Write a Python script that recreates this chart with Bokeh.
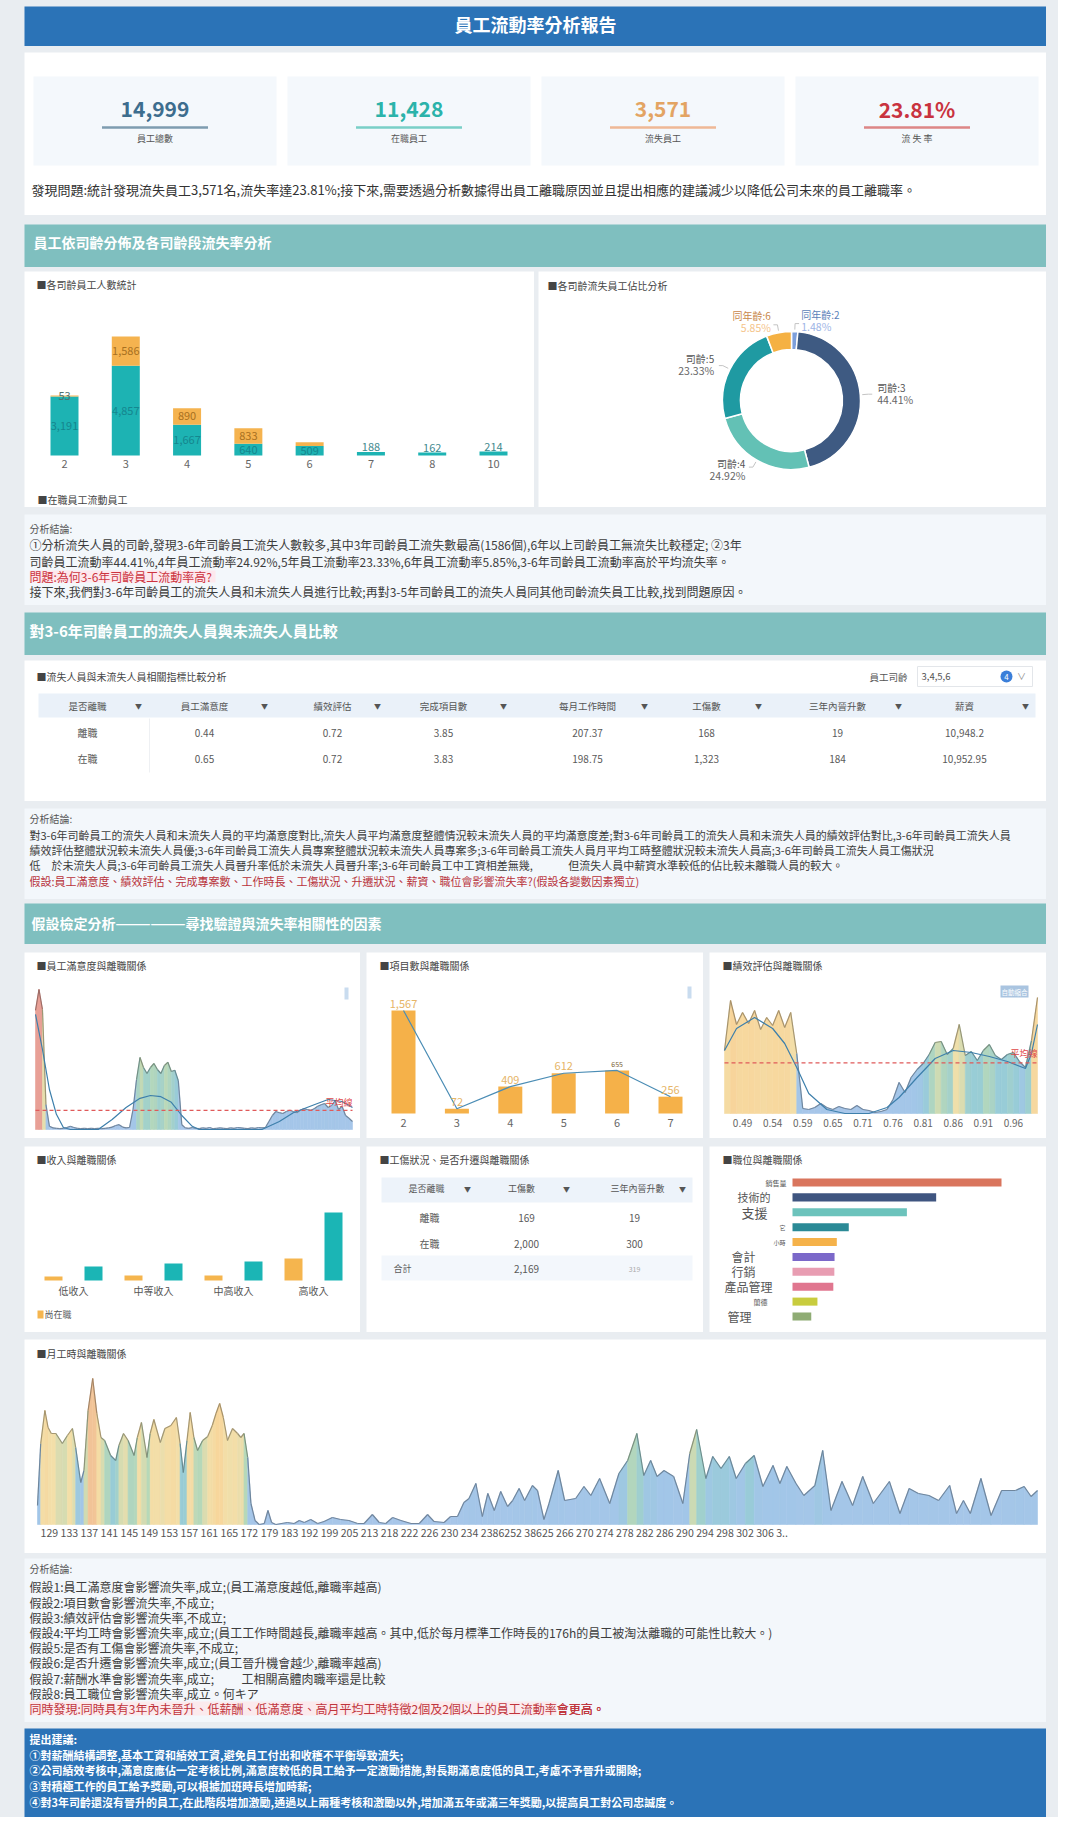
import numpy as np
from bokeh.plotting import figure
from bokeh.layouts import column, row
from bokeh.models import Range1d, Spacer
from bokeh.core.properties import value
from bokeh.embed import file_html
from bokeh.resources import INLINE

FONT = "Noto Sans CJK TC"
BG = "#e9edf1"
WHITE = "#ffffff"
NOTE_BG = "#f3f7fb"
BLUE = "#2b73b7"
TEAL_HDR = "#7fbfbf"
TEAL = "#1db3b3"
ORANGE = "#f5b34f"
RED = "#cc3440"

# ---------------- data ----------------
kpi_total = 14999
kpi_active = 11428
kpi_left = 3571
kpi_labels = ["員工總數", "在職員工", "流失員工", "流 失 率"]

tenure_years = [2, 3, 4, 5, 6, 7, 8, 10]
tenure_stay = [3191, 4857, 1667, 640, 509, 188, 162, 214]
tenure_left = [53, 1586, 890, 833, 209, 0, 0, 0]

donut_names = ["同年齡:2", "司齡:3", "司齡:4", "司齡:5", "同年齡:6"]
donut_counts = [53, 1586, 890, 833, 209]

table_cols = ["是否離職", "員工滿意度", "績效評估", "完成項目數", "每月工作時間", "工傷數", "三年內晉升數", "薪資"]
table_status = ["離職", "在職"]
table_satisfaction = [0.44, 0.65]
table_evaluation = [0.72, 0.72]
table_projects = [3.85, 3.83]
table_hours = [207.37, 198.75]
table_accident = [168, 1323]
table_promotion = [19, 184]
table_salary = [10948.2, 10952.95]
filter_ages = [3, 4, 5, 6]

sat_levels = [f"{v / 100:.2f}" for v in range(9, 101)]
sat_left = [298, 350, 300, 62, 8,
            4, 3, 2, 3, 5, 8, 5, 3, 2, 3, 2, 3, 2, 3, 2, 3, 4, 6, 10, 12, 6, 4, 5,
            50, 125, 180, 155, 140, 155, 165, 150, 140, 160, 168, 145, 148, 122, 12,
            4, 3, 5, 3, 2, 4, 3, 5, 2, 3, 4, 3, 2, 4, 3, 5, 4, 3, 2, 4, 3, 5, 4,
            5, 20, 35, 45, 42, 40, 45, 48, 45, 42, 48, 52, 50, 48, 52, 58, 62, 65, 55, 60, 72, 50, 58, 35, 28, 20]
sat_trend_idx = [0, 2, 4, 6, 8, 10, 18, 22, 26, 30, 33, 36, 39, 42, 45, 47, 65, 70, 74, 80, 84, 88, 91]
sat_trend = [288, 200, 100, 38, 5, 0, 0, 25, 55, 78, 85, 82, 68, 35, 8, 0, 0, 20, 42, 62, 75, 70, 55]

proj_counts = ["2", "3", "4", "5", "6", "7"]
proj_left = [1567, 72, 409, 612, 655, 256]

eval_levels = ["0.46", "0.47", "0.48", "0.49", "0.50", "0.51", "0.52", "0.53", "0.54", "0.55",
               "0.56", "0.57", "0.58", "0.59", "0.60", "0.61", "0.62", "0.64", "0.65", "0.66",
               "0.67", "0.68", "0.70", "0.71", "0.72", "0.73", "0.74", "0.75", "0.76", "0.77",
               "0.78", "0.79", "0.80", "0.81", "0.82", "0.83", "0.84", "0.85", "0.86", "0.87",
               "0.88", "0.89", "0.90", "0.91", "0.92", "0.93", "0.94", "0.95", "0.96", "0.97",
               "0.98", "0.99", "1.00"]
eval_left = [63, 113, 89, 101, 90, 103, 84, 96, 88, 103, 86, 101, 60, 5,
             4, 6, 10, 6, 4, 7, 5, 4, 8, 4, 3, 1, 2, 4,
             14, 31, 21, 36, 44, 50, 59, 71, 72, 59, 65, 89, 58, 62, 53, 63, 69, 58, 54, 59, 61, 52, 46, 73, 116]
eval_trend_idx = [0, 2, 5, 8, 10, 12, 14, 17, 20, 24, 27, 29, 32, 35, 38, 41, 44, 47, 50, 51, 52]
eval_trend = [63, 85, 96, 85, 70, 46, 20, 4, 0, 0, 6, 16, 36, 55, 63, 61, 57, 52, 45, 60, 89]
eval_ticks = ["0.49", "0.54", "0.59", "0.65", "0.71", "0.76", "0.81", "0.86", "0.91", "0.96"]

income_groups = ["低收入", "中等收入", "中高收入", "高收入"]
income_active = [4, 5, 5, 22]
income_leave = [14, 17, 19, 68]

t2_cols = ["是否離職", "工傷數", "三年內晉升數"]
t2_status = ["離職", "在職"]
t2_accident = [169, 2000]
t2_promotion = [19, 300]

dept_names = ["銷售量", "技術的", "支援", "它", "小時", "會計", "行銷", "產品管理", "蘭德", "管理"]
dept_left = [1014, 697, 555, 273, 215, 204, 203, 198, 121, 91]

monthly_pos = [0.0, 0.7, 1.6, 2.3, 3.0, 4.0, 5.4, 6.5, 7.6, 8.3,
               9.4, 10.1, 11.0, 12.0, 12.9, 13.8, 14.6, 15.9, 17.0, 17.7,
               18.7, 19.7, 21.0, 21.7, 22.6, 23.8, 24.5, 25.3, 26.7, 27.7,
               29.0, 30.2, 31.0, 31.7, 32.5, 33.2, 34.0, 34.8, 35.9, 37.0,
               38.0, 38.8, 39.6, 40.4, 41.3, 42.4, 43.5, 44.2, 44.9, 45.7,
               46.4, 47.3, 48.2, 49.3, 50.1, 50.9, 51.8, 54.3, 55.8, 56.9,
               58.0, 59.4, 60.9, 62.3, 64.1, 65.9, 67.7, 69.6, 71.0, 72.8,
               74.3, 75.7, 77.2, 79.0, 81.2, 83.0, 84.8, 86.2, 88.4, 89.8,
               91.3, 92.7, 93.8, 95.3, 96.7, 97.9, 99.3, 100.7, 102.2, 103.3,
               104.7, 105.9, 107.6, 108.7, 110.1, 111.2, 113.2, 114.6, 117.0, 118.8,
               120.3, 122.2, 124.4, 126.4, 128.3, 130.3, 131.8, 133.3, 134.7, 136.2,
               138.3, 140.3, 141.8, 143.3, 145.3, 146.8, 148.6, 150.4, 151.9, 153.9,
               155.8, 157.7, 159.9, 161.4, 162.9, 164.9, 166.6, 169.0, 170.7, 172.5,
               174.9, 177.2, 179.4, 181.7, 185.2, 187.5, 189.5, 191.5, 193.8, 195.9,
               198.3, 199.8, 201.3, 202.8, 205.1, 207.3, 209.6, 212.6, 214.5, 216.0,
               217.4]
monthly_left = [19, 81, 114, 97, 91, 91, 81, 89, 96, 77,
                42, 54, 114, 146, 111, 87, 84, 69, 64, 79,
                91, 84, 69, 87, 102, 67, 91, 105, 82, 96,
                99, 107, 81, 52, 84, 112, 87, 74, 84, 88,
                99, 111, 121, 107, 84, 96, 91, 87, 91, 67,
                21, 4, 0, 1, 14, 2, 0, 2, 1, 4,
                2, 5, 1, 3, 7, 5, 4, 1, 1, 10,
                2, 1, 7, 4, 1, 1, 10, 3, 2, 8,
                8, 22, 26, 41, 8, 31, 14, 33, 18, 24,
                36, 24, 39, 34, 5, 21, 54, 24, 26, 38,
                29, 46, 21, 51, 64, 91, 49, 64, 48, 54,
                48, 21, 71, 95, 46, 68, 56, 68, 46, 61,
                69, 38, 59, 41, 58, 41, 29, 39, 74, 14,
                43, 19, 48, 21, 43, 11, 36, 31, 29, 24,
                39, 11, 24, 11, 46, 9, 34, 34, 38, 28,
                34]
monthly_tick_text = ("129 133 137 141 145 149 153 157 161 165 172 179 183 192 199 205 213 218 222 226 "
                     "230 234 2386252 38625 266 270 274 278 282 286 290 294 298 302 306 3..")

assert len(sat_left) == len(sat_levels)
assert len(eval_left) == len(eval_levels)
assert len(monthly_pos) == len(monthly_left)

# ---------------- text content ----------------
problem_text = ("發現問題:統計發現流失員工3,571名,流失率達23.81%;接下來,需要透過分析數據得出員工離職原因"
                "並且提出相應的建議減少以降低公司未來的員工離職率。")
note1 = [
    ("分析結論:", 10, "#555555"),
    (" ①分析流失人員的司齡,發現3-6年司齡員工流失人數較多,其中3年司齡員工流失數最高(1586個),6年以上司齡員工無流失比較穩定; ②3年", 12, "#3c3c3c"),
    ("司齡員工流動率44.41%,4年員工流動率24.92%,5年員工流動率23.33%,6年員工流動率5.85%,3-6年司齡員工流動率高於平均流失率。", 12, "#3c3c3c"),
    ("問題:為何3-6年司齡員工流動率高?", 12, RED),
    ("接下來,我們對3-6年司齡員工的流失人員和未流失人員進行比較;再對3-5年司齡員工的流失人員同其他司齡流失員工比較,找到問題原因。", 12, "#3c3c3c"),
]
note2 = [
    ("分析結論:", 10, "#555555"),
    ("對3-6年司齡員工的流失人員和未流失人員的平均滿意度對比,流失人員平均滿意度整體情況較未流失人員的平均滿意度差;對3-6年司齡員工的流失人員和未流失人員的績效評估對比,3-6年司齡員工流失人員", 11, "#3c3c3c"),
    ("績效評估整體狀況較未流失人員優;3-6年司齡員工流失人員專案整體狀況較未流失人員專案多;3-6年司齡員工流失人員月平均工時整體狀況較未流失人員高;3-6年司齡員工流失人員工傷狀況", 11, "#3c3c3c"),
    ("低　於未流失人員;3-6年司齡員工流失人員晉升率低於未流失人員晉升率;3-6年司齡員工中工資相差無幾,　　　 但流失人員中薪資水準較低的佔比較未離職人員的較大。", 11, "#3c3c3c"),
    ("假設:員工滿意度、績效評估、完成專案數、工作時長、工傷狀況、升遷狀況、薪資、職位會影響流失率?(假設各變數因素獨立)", 11, "#b8323a"),
]
note3 = [
    ("分析結論:", 10, "#555555"),
    ("假設1:員工滿意度會影響流失率,成立;(員工滿意度越低,離職率越高)", 12, "#3c3c3c"),
    ("假設2:項目數會影響流失率,不成立;", 12, "#3c3c3c"),
    ("假設3:績效評估會影響流失率,不成立;", 12, "#3c3c3c"),
    ("假設4:平均工時會影響流失率,成立;(員工工作時間越長,離職率越高。其中,低於每月標準工作時長的176h的員工被淘汰離職的可能性比較大。)", 12, "#3c3c3c"),
    ("假設5:是否有工傷會影響流失率,不成立;", 12, "#3c3c3c"),
    ("假設6:是否升遷會影響流失率,成立;(員工晉升機會越少,離職率越高)", 12, "#3c3c3c"),
    ("假設7:薪酬水準會影響流失率,成立;", 12, "#3c3c3c"),
    ("假設8:員工職位會影響流失率,成立。何キア", 12, "#3c3c3c"),
    ("同時發現:同時具有3年內未晉升、低薪酬、低滿意度、高月平均工時特徵2個及2個以上的員工流動率會更高。", 12, "#c0343c"),
]
suggest = [
    "提出建議:",
    "①對薪酬結構調整,基本工資和績效工資,避免員工付出和收穫不平衡導致流失;",
    "②公司績效考核中,滿意度應佔一定考核比例,滿意度較低的員工給予一定激勵措施,對長期滿意度低的員工,考慮不予晉升或開除;",
    "③對積極工作的員工給予獎勵,可以根據加班時長增加時薪;",
    "④對3年司齡還沒有晉升的員工,在此階段增加激勵,通過以上兩種考核和激勵以外,增加滿五年或滿三年獎勵,以提高員工對公司忠誠度。",
]

# ---------------- helpers ----------------
W = 1022


def fit(lo, hi, a, b, total):
    k = (hi - lo) / (b - a)
    start = lo - a * k
    return Range1d(start, start + total * k)


def fig(w, h, bg, xr=None, yr=None):
    p = figure(width=w, height=h,
               x_range=xr if xr is not None else Range1d(0, w),
               y_range=yr if yr is not None else Range1d(h, 0),
               x_axis_type=None, y_axis_type=None, tools="", toolbar_location=None,
               output_backend="svg", min_border=0)
    p.extra_x_ranges = {"px": Range1d(0, w)}
    p.extra_y_ranges = {"px": Range1d(h, 0)}
    p.outline_line_color = None
    p.background_fill_color = bg
    p.border_fill_color = bg
    p.grid.visible = False
    return p


def T(p, x, y, s, size=11, color="#3c3c3c", align="left", bold=False, baseline="middle"):
    p.text(x=[x], y=[y], text=[s], text_font=value(FONT), text_font_size=f"{size}px",
           text_color=color, text_align=align, text_baseline=baseline,
           text_font_style="bold" if bold else "normal",
           x_range_name="px", y_range_name="px")


def R(p, x0, y0, x1, y1, fill, line=None):
    p.quad(left=[x0], right=[x1], top=[y0], bottom=[y1], fill_color=fill, line_color=line,
           x_range_name="px", y_range_name="px")


STOPS = [(0.0, (168, 198, 234)), (0.36, (162, 198, 232)), (0.46, (152, 205, 214)),
         (0.54, (182, 216, 186)), (0.62, (243, 224, 170)), (0.8, (248, 214, 156)),
         (0.92, (240, 190, 150)), (1.0, (232, 160, 150))]


def cmap(t):
    t = max(0.0, min(1.0, t))
    for (t0, c0), (t1, c1) in zip(STOPS[:-1], STOPS[1:]):
        if t <= t1:
            f = (t - t0) / (t1 - t0)
            return tuple(int(c0[i] + (c1[i] - c0[i]) * f) for i in range(3))
    return STOPS[-1][1]


def hexc(c, k=1.0):
    return "#%02x%02x%02x" % tuple(int(v * k) for v in c)


def area(p, xs, ys, vref):
    pxs, pys, fills, lxs, lys, lcs = [], [], [], [], [], []
    for i in range(len(xs) - 1):
        c = cmap(((ys[i] + ys[i + 1]) / 2) / vref)
        pxs.append([xs[i], xs[i + 1], xs[i + 1], xs[i]])
        pys.append([ys[i], ys[i + 1], 0, 0])
        fills.append(hexc(c))
        lxs.append([xs[i], xs[i + 1]])
        lys.append([ys[i], ys[i + 1]])
        lcs.append(hexc(c, 0.68))
    p.patches(pxs, pys, fill_color=fills, line_color=fills, line_width=0.6)
    p.multi_line(lxs, lys, line_color=lcs, line_width=1.2)


def pill(p, x, y):
    R(p, x - 2, y - 6, x + 2, y + 6, "#c9dcef")


def note_panel(lines, h, ys):
    p = fig(W, h, NOTE_BG)
    for (s, size, color), y in zip(lines, ys):
        T(p, 5, y, s, size, color)
    return p


def section(text, h, tx, ty, size):
    p = fig(W, h, TEAL_HDR)
    T(p, tx, ty, text, size, "#ffffff", bold=True)
    return p


# ---------------- header ----------------
hdr = fig(W, 40, BLUE)
T(hdr, W / 2, 17, "員工流動率分析報告", 18, "#ffffff", "center", True)

# ---------------- KPI ----------------
kpi = fig(W, 163, WHITE)
kpi_vals = [f"{kpi_total:,}", f"{kpi_active:,}", f"{kpi_left:,}", f"{kpi_left / kpi_total * 100:.2f}%"]
kpi_colors = ["#3d6d8e", "#2bb3aa", "#e3a463", "#c9333f"]
kpi_lines = ["#7e9cb0", "#79cfc7", "#efb896", "#dd8686"]
for i in range(4):
    x0 = 9 + 254 * i
    R(kpi, x0, 24, x0 + 243, 113, "#f4f8fc")
    cxk = x0 + 121.5
    T(kpi, cxk, 56, kpi_vals[i], 21, kpi_colors[i], "center", True)
    kpi.line(x=[cxk - 53, cxk + 53], y=[75, 75], line_color=kpi_lines[i], line_width=2.5,
             x_range_name="px", y_range_name="px")
    T(kpi, cxk, 86, kpi_labels[i], 9, "#555555", "center")
T(kpi, 7, 137, problem_text, 13, "#333333")

sec1 = section("員工依司齡分佈及各司齡段流失率分析", 43, 9, 17, 14)

# ---------------- tenure bar chart ----------------
BW, BH = 510, 236
tot = [a + b for a, b in zip(tenure_stay, tenure_left)]
n = len(tenure_years)
xi = list(range(n))
base_rel, top_rel = 184, 65
bar = fig(BW, BH, WHITE, fit(0, n - 1, 40, 469, BW), fit(0, max(tot), BH - base_rel, BH - top_rel, BH))
pitch = (469 - 40) / (n - 1)
bw = 28 / pitch
bar.vbar(x=xi, bottom=0, top=tenure_stay, width=bw, fill_color=TEAL, line_color=None)
bar.vbar(x=xi, bottom=tenure_stay, top=tot, width=bw, fill_color=ORANGE, line_color=None)
ppu = (base_rel - top_rel) / max(tot)
in_x, in_y, in_t, ab_x, ab_y, ab_t = [], [], [], [], [], []
for i, s in enumerate(tenure_stay):
    if s * ppu >= 6:
        in_x.append(i); in_y.append(s / 2); in_t.append(f"{s:,}")
    else:
        ab_x.append(i); ab_y.append(tot[i]); ab_t.append(f"{s:,}")
bar.text(x=in_x, y=in_y, text=in_t, text_font=value(FONT), text_font_size="11px", text_color="#15868e",
         text_align="center", text_baseline="middle")
bar.text(x=ab_x, y=ab_y, text=ab_t, y_offset=-1, text_font=value(FONT), text_font_size="11px",
         text_color="#3f8a8e", text_align="center", text_baseline="bottom")
ox, oy, ot, oc_ = [], [], [], []
for i in range(n):
    if tenure_left[i] > 0:
        oc = tenure_stay[i] + tenure_left[i] / 2
        if (oc - tenure_stay[i] / 2) * ppu > 10:
            ox.append(i); oy.append(oc); ot.append(f"{tenure_left[i]:,}")
            oc_.append("#a8701f" if tenure_left[i] * ppu >= 6 else "#4f6f6f")
bar.text(x=ox, y=oy, text=ot, text_font=value(FONT), text_font_size="11px", text_color=oc_,
         text_align="center", text_baseline="middle")
bar.text(x=xi, y=[192] * n, text=[str(v) for v in tenure_years], y_range_name="px",
         text_font=value(FONT), text_font_size="11px", text_color="#666666",
         text_align="center", text_baseline="middle")
T(bar, 12, 13, "■各司齡員工人數統計", 10, "#444444")
T(bar, 13, 228, "■在職員工流動員工", 10, "#444444")

# ---------------- donut ----------------
DW, DH = 508, 236
don = fig(DW, DH, WHITE, Range1d(0, DW), Range1d(0, DH))
cx, cy = 253, DH - 129
fr = np.array(donut_counts, dtype=float) / sum(donut_counts)
cum = np.concatenate([[0.0], np.cumsum(fr)])
starts = np.pi / 2 - cum[1:] * 2 * np.pi
ends = np.pi / 2 - cum[:-1] * 2 * np.pi
donut_colors = ["#7d9fdb", "#3e5a82", "#63c1b5", "#1f9aa2", "#f5b143"]
name_colors = ["#5b7fb8", "#555555", "#555555", "#555555", "#c8874a"]
pct_colors = ["#9db4e6", "#666666", "#666666", "#666666", "#f5c48a"]
don.annular_wedge(x=cx, y=cy, inner_radius=51, outer_radius=69, start_angle=starts, end_angle=ends,
                  fill_color=donut_colors, line_color="white", line_width=1.5)
lxs, lys = [], []
for i in range(len(donut_counts)):
    mid = (cum[i] + cum[i + 1]) / 2 * 2 * np.pi
    sx, sy = np.sin(mid), np.cos(mid)
    side = 1 if sx >= 0 else -1
    p1 = (cx + 71 * sx, cy + 71 * sy)
    p2 = (cx + 77 * sx, cy + 77 * sy)
    lxs.append([p1[0], p2[0], p2[0] + 4 * side])
    lys.append([p1[1], p2[1], p2[1]])
    ax, ay = cx + 80 * sx + 6 * side, cy + 80 * sy
    al = "left" if side > 0 else "right"
    don.text(x=[ax], y=[ay + 6], text=[donut_names[i]], text_font=value(FONT), text_font_size="10px",
             text_color=name_colors[i], text_align=al, text_baseline="middle")
    don.text(x=[ax], y=[ay - 6], text=[f"{fr[i] * 100:.2f}%"], text_font=value(FONT), text_font_size="10.5px",
             text_color=pct_colors[i], text_align=al, text_baseline="middle")
don.multi_line(lxs, lys, line_color="#c4c4c4", line_width=1)
T(don, 9, 14, "■各司齡流失員工佔比分析", 10, "#444444")

note_1 = note_panel(note1, 91, [14, 30, 47, 62, 77])
R(note_1, 5, 56, 191, 68, "#fde8ed")
T(note_1, 5, 62, note1[3][0], 12, RED)

sec2 = section("對3-6年司齡員工的流失人員與未流失人員比較", 43, 5, 18, 15)

# ---------------- table ----------------
tab = fig(W, 141, WHITE)
T(tab, 12, 16, "■流失人員與未流失人員相關指標比較分析", 10, "#444444")
T(tab, 845, 16, "員工司齡", 9.5, "#555555")
tab.quad(left=[893], right=[1008], top=[6], bottom=[26], fill_color=None, line_color="#e3e6ea",
         x_range_name="px", y_range_name="px")
T(tab, 897, 16, ",".join(str(a) for a in filter_ages), 9.5, "#555555")
tab.scatter(x=[982], y=[16], size=12, fill_color="#3b7fd9", line_color=None, x_range_name="px", y_range_name="px")
T(tab, 982, 16, str(len(filter_ages)), 8, "#ffffff", "center")
T(tab, 997, 16, "∨", 9, "#888888", "center")
R(tab, 14, 33, 1011, 57, "#eaf1f9")
col_x = [63, 180, 308, 419, 563, 682, 813, 940]
arrow_x = [114, 240, 353, 479, 620, 734, 874, 1001]
for c, x, ax_ in zip(table_cols, col_x, arrow_x):
    T(tab, x, 45, c, 9.5, "#555555", "center")
    T(tab, ax_, 45, "▼", 7, "#555555", "center")
tab.line(x=[125, 125], y=[58, 112], line_color="#eef0f3", line_width=1, x_range_name="px", y_range_name="px")
for r, y in enumerate([72, 98]):
    vals = [table_status[r], f"{table_satisfaction[r]:.2f}", f"{table_evaluation[r]:.2f}",
            f"{table_projects[r]:.2f}", f"{table_hours[r]:.2f}", f"{table_accident[r]:,}",
            f"{table_promotion[r]:,}", f"{table_salary[r]:,}"]
    for v, x in zip(vals, col_x):
        T(tab, x, y, v, 10, "#5a5a5a", "center")

note_2 = note_panel(note2, 91, [10, 26, 41, 56, 72])

sec3 = section("假設檢定分析——————尋找驗證與流失率相關性的因素", 41, 7, 19, 14)

# ---------------- satisfaction ----------------
PW, PH = 336, 186
ns = len(sat_levels)
sat_idx = list(range(ns))
pa = fig(PW, PH, WHITE, fit(0, ns - 1, 11, 328, PW), fit(0, max(sat_left), PH - 177, PH - 37, PH))
area(pa, sat_idx, sat_left, 300)
pa.line(x=sat_trend_idx, y=sat_trend, line_color="#3d7fab", line_width=1.2)
sat_mean = float(np.mean(sat_left))
pa.line(x=[0, ns - 1], y=[sat_mean, sat_mean], line_color="#e05a5a", line_width=1.3, line_dash="4 3")
pa.text(x=[ns - 1], y=[sat_mean], text=["平均線"], y_offset=-8, text_font=value(FONT), text_font_size="9px",
        text_color="#e04848", text_align="right", text_baseline="middle")
T(pa, 12, 13, "■員工滿意度與離職關係", 10, "#444444")
pill(pa, 322, 41)

# ---------------- projects ----------------
PW2 = 337
npj = len(proj_counts)
pj_idx = list(range(npj))
pb = fig(PW2, PH, WHITE, fit(0, npj - 1, 37, 304, PW2), fit(0, max(proj_left), PH - 161, PH - 58, PH))
pb.vbar(x=pj_idx, top=proj_left, width=24 / ((304 - 37) / (npj - 1)), fill_color="#f5b149", line_color=None)
pb.line(x=pj_idx, y=proj_left, line_color="#4b8db5", line_width=1.2)
pj_sizes = ["11px", "11px", "11px", "11px", "7px", "11px"]
pj_colors = ["#e6b567", "#e6b567", "#e6b567", "#e6b567", "#7a6030", "#e6b567"]
pb.text(x=pj_idx, y=proj_left, text=[f"{v:,}" for v in proj_left], y_offset=-3,
        text_font=value(FONT), text_font_size=pj_sizes, text_color=pj_colors,
        text_align="center", text_baseline="bottom")
pb.text(x=pj_idx, y=[170] * npj, text=proj_counts, y_range_name="px", text_font=value(FONT),
        text_font_size="11px", text_color="#666666", text_align="center", text_baseline="middle")
T(pb, 13, 13, "■項目數與離職關係", 10, "#444444")
pill(pb, 323, 40)

# ---------------- evaluation ----------------
ne = len(eval_levels)
ev_idx = list(range(ne))
pc = fig(PW2, PH, WHITE, fit(0, ne - 1, 15, 328, PW2), fit(0, max(eval_left), PH - 161, PH - 45, PH))
area(pc, ev_idx, eval_left, 125)
pc.line(x=eval_trend_idx, y=eval_trend, line_color="#3d7fab", line_width=1.2)
ev_mean = float(np.mean(eval_left))
pc.line(x=[0, ne - 1], y=[ev_mean, ev_mean], line_color="#e05a5a", line_width=1.3, line_dash="4 3")
pc.text(x=[ne - 1], y=[ev_mean], text=["平均線"], y_offset=-9, text_font=value(FONT), text_font_size="9px",
        text_color="#e04848", text_align="right", text_baseline="middle")
tick_i = [eval_levels.index(t) for t in eval_ticks]
pc.text(x=tick_i, y=[170] * len(tick_i), text=eval_ticks, y_range_name="px", text_font=value(FONT),
        text_font_size="10px", text_color="#666666", text_align="center", text_baseline="middle")
T(pc, 13, 13, "■績效評估與離職關係", 10, "#444444")
R(pc, 291, 33, 319, 45, "#a9c4e0")
T(pc, 305, 39, "自動縮合", 6.5, "#ffffff", "center")

# ---------------- income ----------------
ng = len(income_groups)
g_idx = np.arange(ng)
pd_ = fig(PW, PH, WHITE, fit(0, ng - 1, 49, 289, PW), fit(0, max(income_leave), PH - 134, PH - 66, PH))
pd_.vbar(x=g_idx - 0.25, top=income_active, width=0.225, fill_color="#f5b54e", line_color=None)
pd_.vbar(x=g_idx + 0.25, top=income_leave, width=0.225, fill_color="#1bb5b5", line_color=None)
pd_.text(x=list(g_idx), y=[144] * ng, text=income_groups, y_range_name="px", text_font=value(FONT),
         text_font_size="10px", text_color="#555555", text_align="center", text_baseline="middle")
T(pd_, 12, 13, "■收入與離職關係", 10, "#444444")
R(pd_, 13, 164, 19, 172, "#f5b54e")
T(pd_, 20, 168, "尚在職", 9, "#555555")

# ---------------- table 2 ----------------
pe = fig(PW2, PH, WHITE)
T(pe, 13, 13, "■工傷狀況、是否升遷與離職關係", 10, "#444444")
R(pe, 15, 31, 326, 56, "#edf3fa")
for c, x, ax_ in zip(t2_cols, [60, 155, 271], [101, 200, 316]):
    T(pe, x, 42, c, 9, "#555555", "center")
    T(pe, ax_, 42, "▼", 7, "#555555", "center")
for r, y in enumerate([71, 97]):
    T(pe, 63, y, t2_status[r], 10, "#5a5a5a", "center")
    T(pe, 160, y, f"{t2_accident[r]:,}", 10, "#5a5a5a", "center")
    T(pe, 268, y, f"{t2_promotion[r]:,}", 10, "#5a5a5a", "center")
R(pe, 15, 109, 326, 134, "#f3f7fc")
T(pe, 27, 122, "合計", 9, "#5a5a5a")
T(pe, 160, 122, f"{sum(t2_accident):,}", 10, "#5a5a5a", "center")
T(pe, 268, 122, f"{sum(t2_promotion):,}", 7, "#aaaaaa", "center")

# ---------------- departments ----------------
nd = len(dept_names)
d_idx = list(range(nd))
pf = fig(PW2, PH, WHITE, fit(0, max(dept_left), 83, 292, PW2), fit(0, nd - 1, PH - 36, PH - 170, PH))
dept_colors = ["#d9755d", "#3f5580", "#6cc3bc", "#2b8a96", "#f5b24a", "#7b68c9", "#e89db2", "#e0768f", "#c8cc3e", "#8fac74"]
pf.hbar(y=d_idx, left=0, right=dept_left, height=0.54, fill_color=dept_colors, line_color=None)
lab_sizes = ["7px", "11px", "13px", "6px", "6px", "12px", "12px", "12px", "7px", "12px"]
lab_off = [-6, -22, -25, -7, -7, -37, -37, -20, -25, -41]
pf.text(x=[0] * nd, y=d_idx, text=dept_names, x_offset=lab_off, text_font=value(FONT),
        text_font_size=lab_sizes, text_color="#555555", text_align="right", text_baseline="middle")
T(pf, 13, 13, "■職位與離職關係", 10, "#444444")

# ---------------- monthly hours ----------------
MH = 214
pm = fig(W, MH, WHITE, fit(0, monthly_pos[-1], 13, 1013, W), fit(0, max(monthly_left), MH - 185, MH - 39, MH))
area(pm, monthly_pos, monthly_left, max(monthly_left))
T(pm, 16, 193, monthly_tick_text, 10.6, "#555555")
T(pm, 12, 14, "■月工時與離職關係", 10, "#444444")

# ---------------- notes / suggestions ----------------
note_3 = note_panel(note3, 164, [10, 28, 44, 59, 74, 89, 104, 120, 135, 150])
R(note_3, 5, 143, 532, 157, "#fbeaed")
T(note_3, 5, 150, note3[-1][0], 12, "#c0343c")
T(note_3, 217, 120, "工相關高體肉職率還是比較", 12, "#3c3c3c")

sug = fig(W, 89, BLUE)
for s, y in zip(suggest, [10, 26, 41, 57, 73]):
    T(sug, 5, y, s, 11, "#ffffff", bold=True)


# ---------------- layout ----------------
def hr(items, h):
    kids = [Spacer(width=24, height=h)]
    for it in items:
        if isinstance(it, int):
            kids.append(Spacer(width=it, height=h))
        else:
            kids.append(it)
    kids.append(Spacer(width=12, height=h))
    return row(kids)


def vs(h):
    return Spacer(width=1058, height=h)


layout = column([
    vs(6),
    hr([hdr], 40), vs(6),
    hr([kpi], 163), vs(9),
    hr([sec1], 43), vs(4),
    hr([bar, 4, don], 236), vs(7),
    hr([note_1], 91), vs(7),
    hr([sec2], 43), vs(5),
    hr([tab], 141), vs(7),
    hr([note_2], 91), vs(4),
    hr([sec3], 41), vs(8),
    hr([pa, 6, pb, 6, pc], PH), vs(8),
    hr([pd_, 6, pe, 6, pf], PH), vs(7),
    hr([pm], MH), vs(5),
    hr([note_3], 164), vs(6),
    hr([sug], 89),
], styles={"background-color": BG})

open("out.html", "w").write(file_html(layout, INLINE))
